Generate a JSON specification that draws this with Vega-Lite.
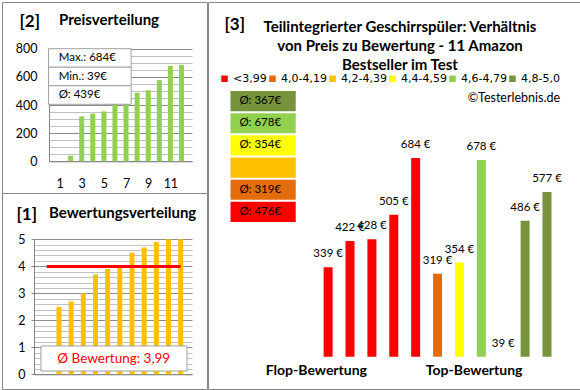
{
  "$schema": "https://vega.github.io/schema/vega-lite/v6.json",
  "background": "white",
  "padding": {"left": 1, "top": 1, "right": 2, "bottom": 2},
  "spacing": -3,
  "config": {
    "font": "Lato",
    "view": {"stroke": "#878787", "strokeWidth": 1},
    "locale": {"number": {"decimal": ",", "thousands": ".", "grouping": [3], "currency": ["", " €"]}},
    "axis": {"labelFont": "Lato", "labelColor": "#000000", "titleFont": "Lato", "titleColor": "#000000", "labelOverlap": false, "labelFlush": false},
    "title": {"font": "Lato", "color": "#000000", "fontWeight": "bold"}
  },
  "datasets": {
    "preis": [
      {"pos": 2, "price": 39}, {"pos": 3, "price": 319}, {"pos": 4, "price": 339}, {"pos": 5, "price": 354},
      {"pos": 6, "price": 422}, {"pos": 7, "price": 428}, {"pos": 8, "price": 486}, {"pos": 9, "price": 505},
      {"pos": 10, "price": 577}, {"pos": 11, "price": 678}, {"pos": 12, "price": 684}
    ],
    "preisbox": [{"label": "Max.: 684€"}, {"label": "Min.: 39€"}, {"label": "Ø: 439€"}],
    "bewertung": [
      {"pos": 2, "rating": 2.5}, {"pos": 3, "rating": 2.7}, {"pos": 4, "rating": 3.0}, {"pos": 5, "rating": 3.7},
      {"pos": 6, "rating": 3.9}, {"pos": 7, "rating": 4.0}, {"pos": 8, "rating": 4.5}, {"pos": 9, "rating": 4.7},
      {"pos": 10, "rating": 4.9}, {"pos": 11, "rating": 5.0}, {"pos": 12, "rating": 5.0}
    ],
    "bewertungsbox": [{"label": "Ø Bewertung: 3,99"}],
    "produkte": [
      {"nr": 1, "price": 339, "kat": "<3,99"}, {"nr": 2, "price": 422, "kat": "<3,99"},
      {"nr": 3, "price": 428, "kat": "<3,99"}, {"nr": 4, "price": 505, "kat": "<3,99"},
      {"nr": 5, "price": 684, "kat": "<3,99"}, {"nr": 6, "price": 319, "kat": "4,0-4,19"},
      {"nr": 7, "price": 354, "kat": "4,4-4,59"}, {"nr": 8, "price": 678, "kat": "4,6-4,79"},
      {"nr": 9, "price": 39, "kat": "4,8-5,0"}, {"nr": 10, "price": 486, "kat": "4,8-5,0"},
      {"nr": 11, "price": 577, "kat": "4,8-5,0"}
    ],
    "boxen": [
      {"kat": "4,8-5,0", "label": "Ø: 367€"}, {"kat": "4,6-4,79", "label": "Ø: 678€"},
      {"kat": "4,4-4,59", "label": "Ø: 354€"}, {"kat": "4,2-4,39", "label": ""},
      {"kat": "4,0-4,19", "label": "Ø: 319€"}, {"kat": "<3,99", "label": "Ø: 476€"}
    ]
  },
  "hconcat": [
    {
      "vconcat": [
        {
          "width": 205, "height": 191,
          "title": {"text": "Preisverteilung", "anchor": "start", "dx": 57, "offset": -26, "fontSize": 15},
          "resolve": {"scale": {"y": "independent"}},
          "layer": [
            {
              "data": {"name": "preis"},
              "mark": {"type": "bar", "width": 5, "color": "#92D050"},
              "encoding": {
                "x": {"field": "pos", "type": "quantitative",
                  "scale": {"domain": [0.5, 12.5], "range": [47, 190], "nice": false, "zero": false},
                  "axis": {"title": null, "values": [1, 3, 5, 7, 9, 11], "tickCount": 100, "format": "d", "offset": -31.7, "labelPadding": 16, "ticks": false, "grid": false, "domainColor": "#868686", "labelFontSize": 12.5}},
                "y": {"field": "price", "type": "quantitative",
                  "scale": {"domain": [0, 800], "range": [159.3, 46.7], "nice": false, "zero": false},
                  "axis": {"title": "[2]", "titleAngle": 0, "titleAlign": "left", "titleBaseline": "middle", "titleX": -30, "titleY": 19, "titleFontSize": 17, "titleFontWeight": "bold",
                    "values": [0, 50, 100, 150, 200, 250, 300, 350, 400, 450, 500, 550, 600, 650, 700, 750, 800],
                    "tickCount": 100,
                    "labelExpr": "datum.value % 200 === 0 ? toString(datum.value) : ''",
                    "offset": -47, "ticks": false, "labelPadding": 12, "domainColor": "#868686", "grid": true,
                    "gridColor": {"condition": {"test": "datum.value % 200 === 0", "value": "#8c8c8c"}, "value": "#c0c0c0"},
                    "labelFontSize": 12.5}}
              }
            },
            {
              "data": {"name": "preisbox"},
              "layer": [
                {
                  "mark": {"type": "bar", "fill": "white", "stroke": "#a0a0a0", "strokeWidth": 1},
                  "encoding": {
                    "x": {"datum": 0}, "x2": {"datum": 7.46},
                    "y": {"field": "label", "type": "nominal", "sort": null, "scale": {"range": [46.7, 102.3], "paddingInner": 0, "paddingOuter": 0}, "axis": null}
                  }
                },
                {
                  "mark": {"type": "text", "align": "left", "fontSize": 11.5, "color": "#000000"},
                  "encoding": {
                    "x": {"datum": 0.92},
                    "y": {"field": "label", "type": "nominal", "sort": null, "axis": null},
                    "text": {"field": "label"}
                  }
                }
              ]
            }
          ]
        },
        {
          "width": 205, "height": 196,
          "title": {"text": "Bewertungsverteilung", "anchor": "start", "dx": 47, "offset": -28, "fontSize": 15},
          "layer": [
            {
              "data": {"name": "bewertung"},
              "mark": {"type": "bar", "width": 5, "color": "#FFC000"},
              "encoding": {
                "x": {"field": "pos", "type": "quantitative",
                  "scale": {"domain": [0.36, 12.52], "range": [32, 190], "nice": false, "zero": false},
                  "axis": {"title": null, "labels": false, "ticks": false, "grid": false, "offset": -14.7, "domainColor": "#868686"}},
                "y": {"field": "rating", "type": "quantitative",
                  "scale": {"domain": [0, 5], "range": [181.3, 46.3], "nice": false, "zero": false},
                  "axis": {"title": "[1]", "titleAngle": 0, "titleAlign": "left", "titleBaseline": "middle", "titleX": -18, "titleY": 21.3, "titleFontSize": 17, "titleFontWeight": "bold",
                    "values": [0, 0.2, 0.4, 0.6, 0.8, 1, 1.2, 1.4, 1.6, 1.8, 2, 2.2, 2.4, 2.6, 2.8, 3, 3.2, 3.4, 3.6, 3.8, 4, 4.2, 4.4, 4.6, 4.8, 5],
                    "tickCount": 100,
                    "labelExpr": "datum.value % 1 === 0 ? toString(datum.value) : ''",
                    "offset": -32, "tickSize": 3,
                    "tickColor": {"condition": {"test": "datum.value % 1 === 0", "value": "#868686"}, "value": "transparent"},
                    "labelPadding": 6, "domainColor": "#868686", "grid": true,
                    "gridColor": {"condition": {"test": "datum.value % 1 === 0", "value": "#8c8c8c"}, "value": "#c0c0c0"},
                    "labelFontSize": 12.5}}
              }
            },
            {
              "data": {"name": "bewertung"},
              "mark": {"type": "rule", "color": "#FF0000", "strokeWidth": 3},
              "encoding": {
                "x": {"datum": 1}, "x2": {"datum": 12},
                "y": {"aggregate": "mean", "field": "rating", "type": "quantitative"}
              }
            },
            {
              "data": {"name": "bewertungsbox"},
              "mark": {"type": "rect", "fill": "white", "stroke": "#a0a0a0", "strokeWidth": 1},
              "encoding": {
                "x": {"datum": 0.52}, "x2": {"datum": 12.52},
                "y": {"datum": 1.05}, "y2": {"datum": 0.12}
              }
            },
            {
              "data": {"name": "bewertungsbox"},
              "mark": {"type": "text", "color": "#FF0000", "fontSize": 13.5},
              "encoding": {
                "x": {"datum": 6.5}, "y": {"datum": 0.58},
                "text": {"field": "label"}
              }
            }
          ]
        }
      ],
      "spacing": 0,
      "bounds": "flush"
    },
    {
      "width": 372, "height": 387,
      "title": {"text": ["Teilintegrierter Geschirrspüler: Verhältnis", "von Preis zu Bewertung - 11 Amazon", "Bestseller im Test"], "anchor": "middle", "dx": 6, "offset": -71, "fontSize": 15, "lineHeight": 19},
      "resolve": {"scale": {"y": "independent"}},
      "layer": [
        {
          "data": {"name": "produkte"},
          "layer": [
            {
              "mark": {"type": "bar", "width": 9},
              "encoding": {
                "x": {"field": "nr", "type": "quantitative",
                  "scale": {"domain": [-4.26, 12.28], "nice": false, "zero": false},
                  "axis": {"title": null, "values": [0.44, 7.65], "tickCount": 100, "labelExpr": "datum.value < 3 ? 'Flop-Bewertung' : 'Top-Bewertung'", "ticks": false, "domain": false, "grid": false, "offset": -26, "labelPadding": 0, "labelFontSize": 14, "labelFontWeight": "bold"}},
                "y": {"field": "price", "type": "quantitative",
                  "scale": {"domain": [57, 684], "range": [354.7, 156], "nice": false, "zero": false, "clamp": true},
                  "axis": {"title": "[3]", "titleAngle": 0, "titleAlign": "left", "titleBaseline": "middle", "titleX": 16, "titleY": 22, "titleFontSize": 17, "titleFontWeight": "bold", "labels": false, "ticks": false, "domain": false, "grid": false}},
                "y2": {"datum": 0},
                "color": {"field": "kat", "type": "nominal",
                  "scale": {"domain": ["<3,99", "4,0-4,19", "4,2-4,39", "4,4-4,59", "4,6-4,79", "4,8-5,0"], "range": ["#FF0000", "#E46C0A", "#FFC000", "#FFFF00", "#92D050", "#77933C"]},
                  "legend": {"orient": "none", "legendX": 217, "legendY": 71, "direction": "horizontal",
                    "title": "©Testerlebnis.de", "titleOrient": "bottom", "titleAnchor": "end", "titleFontSize": 12.5, "titleFontWeight": "normal", "titleColor": "#000000", "titleFont": "Lato", "titlePadding": 8,
                    "symbolType": "square", "symbolSize": 42, "symbolStrokeWidth": 0, "symbolOpacity": 1,
                    "labelFontSize": 11, "labelColor": "#000000", "labelFont": "DejaVu Sans", "labelOffset": 3, "columnPadding": 0, "labelLimit": 0}}
              }
            },
            {
              "mark": {"type": "text", "dy": -13, "fontSize": 11.5, "color": "#000000"},
              "encoding": {
                "x": {"field": "nr", "type": "quantitative"},
                "y": {"field": "price", "type": "quantitative"},
                "text": {"field": "price", "type": "quantitative", "format": "$.0f"}
              }
            }
          ]
        },
        {
          "data": {"name": "boxen"},
          "layer": [
            {
              "mark": {"type": "bar"},
              "encoding": {
                "x": {"datum": -3.46}, "x2": {"datum": -0.48},
                "y": {"field": "kat", "type": "nominal", "sort": null,
                  "scale": {"domain": ["4,8-5,0", "4,6-4,79", "4,4-4,59", "4,2-4,39", "4,0-4,19", "<3,99"], "range": [89, 220], "paddingInner": 0.09, "paddingOuter": 0},
                  "axis": null},
                "color": {"field": "kat", "type": "nominal"}
              }
            },
            {
              "mark": {"type": "text", "fontSize": 11.5, "color": "#000000"},
              "encoding": {
                "x": {"datum": -2.1},
                "y": {"field": "kat", "type": "nominal", "sort": null, "axis": null},
                "text": {"field": "label"}
              }
            }
          ]
        }
      ]
    }
  ]
}
